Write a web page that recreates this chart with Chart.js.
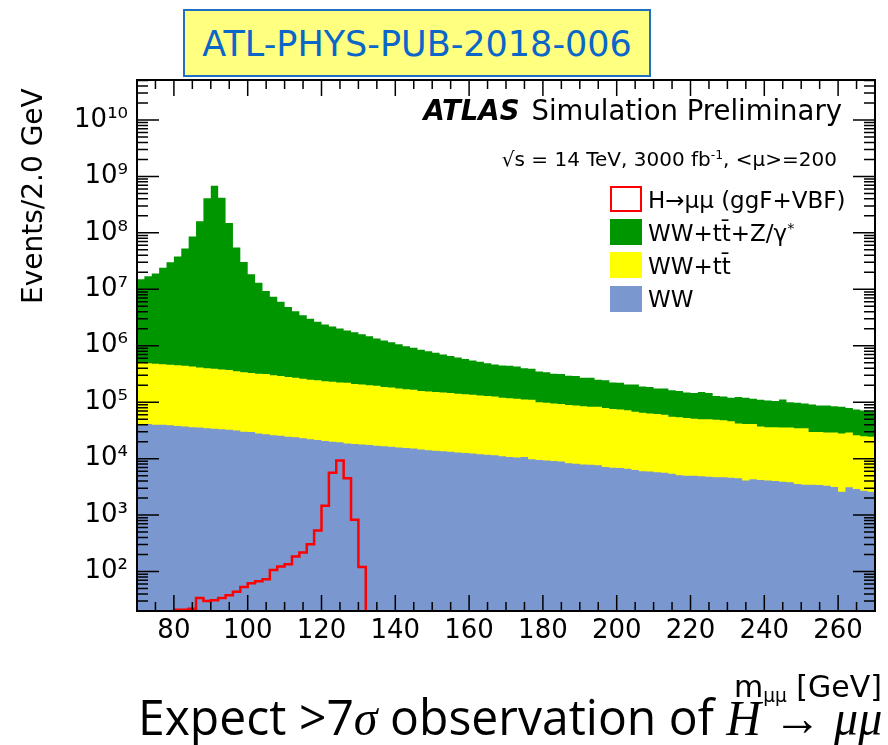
<!DOCTYPE html>
<html>
<head>
<meta charset="utf-8">
<script src="https://cdn.jsdelivr.net/npm/chart.js@4.4.0/dist/chart.umd.min.js"></script>
<style>
  html, body { margin: 0; padding: 0; background: #fff; }
  #wrap { position: relative; width: 888px; height: 745px; overflow: hidden; font-family: 'DejaVu Sans', sans-serif; }
  #c { position: absolute; left: 0; top: 0; }
  .t { position: absolute; white-space: nowrap; line-height: 1; color: #000; }
  .box { position: absolute; width: 32px; height: 26px; box-sizing: border-box; }
  sup, sub { line-height: 0; font-size: 62%; }
  sup { vertical-align: 0.55em; }
  sub { vertical-align: -0.25em; }
  .math { font-family: 'Liberation Serif', serif; font-style: italic; }
</style>
</head>
<body>
<div id="wrap">
  <canvas id="c" width="888" height="745"></canvas>

  <div style="position:absolute;left:183px;top:9px;width:468px;height:68px;box-sizing:border-box;background:#ffff80;border:2px solid #1f6fc4;"></div>
  <div class="t" style="left:183px;width:468px;text-align:center;top:27px;font-size:35px;color:#0a66c8;">ATL-PHYS-PUB-2018-006</div>

  <div class="t" style="right:46px;top:97px;font-size:27.5px;"><b><i>ATLAS</i></b><span style="margin-left:12px">Simulation Preliminary</span></div>
  <div class="t" style="right:51px;top:149px;font-size:20px;">√s = 14 TeV, 3000 fb<sup>-1</sup>, &lt;μ&gt;=200</div>

  <div class="box" style="left:610px;top:186px;background:#fff;border:2px solid #ff0000;"></div>
  <div class="box" style="left:610px;top:219px;background:#009600;"></div>
  <div class="box" style="left:610px;top:252px;background:#ffff00;"></div>
  <div class="box" style="left:610px;top:286px;background:#7b97cf;"></div>
  <div class="t" style="left:648px;top:189px;font-size:23px;">H→μμ (ggF+VBF)</div>
  <div class="t" style="left:648px;top:222px;font-size:23px;">WW+tt̄+Z/γ<sup>*</sup></div>
  <div class="t" style="left:648px;top:255px;font-size:23px;">WW+tt̄</div>
  <div class="t" style="left:648px;top:288px;font-size:23px;">WW</div>

  <div class="t" style="left:19px;top:304px;font-size:28px;transform-origin:top left;transform:rotate(-90deg);">Events/2.0 GeV</div>
  <div class="t" style="right:6px;top:672px;font-size:30px;">m<sub>μμ</sub> [GeV]</div>

  <div id="caption" class="t" style="left:138px;top:691px;font-size:50px;font-family:'Open Sans',sans-serif;transform-origin:top left;">Expect &gt;7<span class="math">σ</span> observation of <span class="math">H</span> → <span class="math">μμ</span></div>
</div>

<script>
// bin edges of the m_mumu histogram (GeV)
const binEdges = [
  70, 72, 74, 76, 78, 80, 82, 84, 86, 88, 90, 92, 94, 96, 98, 100, 102, 104, 106, 108,
  110, 112, 114, 116, 118, 120, 122, 124, 126, 128, 130, 132, 134, 136, 138, 140, 142, 144, 146, 148,
  150, 152, 154, 156, 158, 160, 162, 164, 166, 168, 170, 172, 174, 176, 178, 180, 182, 184, 186, 188,
  190, 192, 194, 196, 198, 200, 202, 204, 206, 208, 210, 212, 214, 216, 218, 220, 222, 224, 226, 228,
  230, 232, 234, 236, 238, 240, 242, 244, 246, 248, 250, 252, 254, 256, 258, 260, 262, 264, 266, 268, 270
];

// stacked totals, as drawn (events / 2 GeV)
const wwTtZ = [
  1.5e7, 1.7e7, 1.9e7, 2.4e7, 3.0e7, 3.8e7, 5.3e7, 8.6e7, 1.6e8, 4.1e8,
  6.8e8, 4.2e8, 1.5e8, 5.5e7, 3.05e7, 1.85e7, 1.3e7, 9.3e6, 7.4e6, 6.0e6,
  4.85e6, 4.07e6, 3.46e6, 3.0e6, 2.65e6, 2.39e6, 2.2e6, 2.03e6, 1.87e6, 1.73e6,
  1.59e6, 1.47e6, 1.35e6, 1.24e6, 1.15e6, 1.06e6, 9.8e5, 9.2e5, 8.5e5, 8.0e5,
  7.5e5, 7.0e5, 6.6e5, 6.2e5, 5.85e5, 5.5e5, 5.2e5, 4.9e5, 4.65e5, 4.45e5,
  4.4e5, 4.3e5, 4.0e5, 3.9e5, 3.5e5, 3.4e5, 3.2e5, 3.15e5, 2.95e5, 2.9e5,
  2.7e5, 2.7e5, 2.5e5, 2.45e5, 2.24e5, 2.2e5, 2.05e5, 2.05e5, 1.9e5, 1.86e5,
  1.74e5, 1.74e5, 1.62e5, 1.58e5, 1.48e5, 1.45e5, 1.51e5, 1.45e5, 1.29e5, 1.26e5,
  1.2e5, 1.23e5, 1.2e5, 1.15e5, 1.1e5, 1.07e5, 1.05e5, 1.12e5, 1.0e5, 9.8e4,
  9.5e4, 9.1e4, 8.7e4, 8.7e4, 8.5e4, 8.3e4, 7.9e4, 7.4e4, 7.1e4, 6.9e4
];
const wwTt = [
  5.0e5, 4.9e5, 4.8e5, 4.7e5, 4.6e5, 4.5e5, 4.4e5, 4.3e5, 4.1e5, 4.0e5,
  3.9e5, 3.8e5, 3.7e5, 3.55e5, 3.4e5, 3.3e5, 3.2e5, 3.15e5, 3.0e5, 2.9e5,
  2.8e5, 2.7e5, 2.6e5, 2.5e5, 2.45e5, 2.35e5, 2.3e5, 2.24e5, 2.2e5, 2.1e5,
  2.05e5, 2.0e5, 1.95e5, 1.86e5, 1.82e5, 1.74e5, 1.7e5, 1.66e5, 1.58e5, 1.55e5,
  1.51e5, 1.48e5, 1.45e5, 1.41e5, 1.38e5, 1.35e5, 1.32e5, 1.29e5, 1.26e5, 1.2e5,
  1.17e5, 1.15e5, 1.12e5, 1.1e5, 1.0e5, 9.8e4, 9.5e4, 9.3e4, 8.9e4, 8.7e4,
  8.5e4, 8.3e4, 8.3e4, 7.9e4, 7.6e4, 7.4e4, 7.2e4, 6.8e4, 6.5e4, 6.3e4,
  6.2e4, 6.0e4, 5.5e4, 5.4e4, 5.25e4, 5.1e4, 5.0e4, 5.0e4, 4.9e4, 4.8e4,
  4.6e4, 4.2e4, 4.1e4, 4.1e4, 3.7e4, 3.6e4, 3.6e4, 3.55e4, 3.55e4, 3.45e4,
  3.45e4, 2.95e4, 2.95e4, 2.9e4, 2.9e4, 2.8e4, 2.9e4, 2.6e4, 2.5e4, 2.45e4
];
const ww = [
  4.1e4, 4.1e4, 4.0e4, 4.0e4, 3.9e4, 3.8e4, 3.7e4, 3.6e4, 3.55e4, 3.45e4,
  3.4e4, 3.3e4, 3.25e4, 3.15e4, 3.0e4, 2.95e4, 2.8e4, 2.7e4, 2.6e4, 2.55e4,
  2.45e4, 2.4e4, 2.3e4, 2.2e4, 2.15e4, 2.05e4, 2.0e4, 1.95e4, 1.86e4, 1.82e4,
  1.78e4, 1.74e4, 1.7e4, 1.66e4, 1.62e4, 1.58e4, 1.55e4, 1.51e4, 1.45e4, 1.41e4,
  1.38e4, 1.35e4, 1.32e4, 1.29e4, 1.26e4, 1.23e4, 1.2e4, 1.17e4, 1.15e4, 1.1e4,
  1.07e4, 1.05e4, 1.07e4, 9.8e3, 9.5e3, 9.3e3, 9.1e3, 8.9e3, 8.3e3, 8.1e3,
  7.9e3, 7.8e3, 7.6e3, 7.1e3, 6.9e3, 6.8e3, 6.6e3, 6.3e3, 6.0e3, 5.9e3,
  5.75e3, 5.6e3, 5.4e3, 5.1e3, 5.0e3, 5.0e3, 4.9e3, 4.8e3, 4.7e3, 4.7e3,
  4.6e3, 4.5e3, 4.1e3, 4.3e3, 4.2e3, 4.1e3, 4.0e3, 3.9e3, 3.8e3, 3.55e3,
  3.45e3, 3.45e3, 3.4e3, 3.3e3, 3.15e3, 2.6e3, 3.1e3, 2.9e3, 2.7e3, 2.6e3
];

// H -> mumu signal, bins from 80 to 132 GeV
const signalStart = 80;
const hmumu = [
  21, 21, 22, 34, 30, 31, 34, 38, 44, 53, 62, 67, 73,
  107, 123, 135, 185, 217, 305, 535, 1460, 5600, 9300, 4500, 830, 120
];

const xTicks = [80, 100, 120, 140, 160, 180, 200, 220, 240, 260];
const yTicks = [1e2, 1e3, 1e4, 1e5, 1e6, 1e7, 1e8, 1e9, 1e10];
const yMin = 20, yMax = 5.1e10;

const supDigits = '⁰¹²³⁴⁵⁶⁷⁸⁹';
function expLabel(v) {
  const e = String(Math.round(Math.log10(v)));
  return '10' + e.split('').map(d => supDigits[+d]).join('');
}

// points at bin edges; with stepped 'before' each value runs to the next edge
function stepPoints(edges, values, closing) {
  const pts = values.map((v, i) => ({ x: edges[i], y: v }));
  pts.push({ x: edges[values.length], y: closing === undefined ? values[values.length - 1] : closing });
  return pts;
}

// ROOT style frame with inner ticks on all four sides
const rootFrame = {
  id: 'rootFrame',
  afterDraw(chart) {
    const { ctx, chartArea: a, scales: { x, y } } = chart;
    ctx.save();
    ctx.strokeStyle = '#000';
    ctx.lineWidth = 1.5;
    ctx.beginPath();
    for (let m = x.min; m <= x.max; m += 5) {
      const px = x.getPixelForValue(m);
      const len = m % 20 === 0 ? 16 : 9;
      ctx.moveTo(px, a.bottom); ctx.lineTo(px, a.bottom - len);
      ctx.moveTo(px, a.top); ctx.lineTo(px, a.top + len);
    }
    for (let e = 1; e <= 10; e++) {
      for (let k = 1; k <= 9; k++) {
        const v = k * Math.pow(10, e);
        if (v < y.min || v > y.max) continue;
        const py = y.getPixelForValue(v);
        const len = k === 1 ? 22 : 11;
        ctx.moveTo(a.left, py); ctx.lineTo(a.left + len, py);
        ctx.moveTo(a.right, py); ctx.lineTo(a.right - len, py);
      }
    }
    ctx.stroke();
    ctx.lineWidth = 2;
    ctx.strokeRect(a.left, a.top, a.right - a.left, a.bottom - a.top);
    ctx.restore();
  }
};

function fillSet(label, values, colour) {
  return {
    label: label,
    data: stepPoints(binEdges, values),
    stepped: 'before',
    borderWidth: 0,
    borderColor: 'rgba(0,0,0,0)',
    backgroundColor: colour,
    fill: 'start',
    pointRadius: 0
  };
}

const sigIndex = binEdges.indexOf(signalStart);

new Chart(document.getElementById('c'), {
  type: 'line',
  data: {
    datasets: [
      {
        label: 'H→μμ (ggF+VBF)',
        data: stepPoints(binEdges.slice(sigIndex), hmumu, yMin),
        stepped: 'before',
        borderColor: '#ff0000',
        borderWidth: 2.5,
        fill: false,
        pointRadius: 0
      },
      fillSet('WW', ww, '#7b97cf'),
      fillSet('WW+tt̄', wwTt, '#ffff00'),
      fillSet('WW+tt̄+Z/γ*', wwTtZ, '#009600')
    ]
  },
  options: {
    responsive: false,
    animation: false,
    devicePixelRatio: 1,
    events: [],
    layout: { padding: { left: 0, right: 13, top: 80, bottom: 94 } },
    plugins: { legend: { display: false }, tooltip: { enabled: false } },
    scales: {
      x: {
        type: 'linear', min: 70, max: 270,
        grid: { display: false, drawTicks: false },
        border: { display: false },
        afterBuildTicks: s => { s.ticks = xTicks.map(v => ({ value: v })); },
        afterFit: s => { s.height = 40; },
        ticks: { autoSkip: false, maxRotation: 0, padding: 5, color: '#000',
                 font: { family: 'DejaVu Sans', size: 26 } }
      },
      y: {
        type: 'logarithmic', min: yMin, max: yMax,
        grid: { display: false, drawTicks: false },
        border: { display: false },
        afterBuildTicks: s => { s.ticks = yTicks.map(v => ({ value: v })); },
        afterFit: s => { s.width = 137; },
        ticks: { autoSkip: false, padding: 9, color: '#000',
                 font: { family: 'DejaVu Sans', size: 26 },
                 callback: v => expLabel(v) }
      }
    }
  },
  plugins: [rootFrame]
});

function fitCaption() {
  const el = document.getElementById('caption');
  el.style.transform = 'none';
  el.style.transform = 'scaleX(' + (744 / el.offsetWidth) + ')';
}
fitCaption();
document.fonts.ready.then(fitCaption);
</script>
</body>
</html>
